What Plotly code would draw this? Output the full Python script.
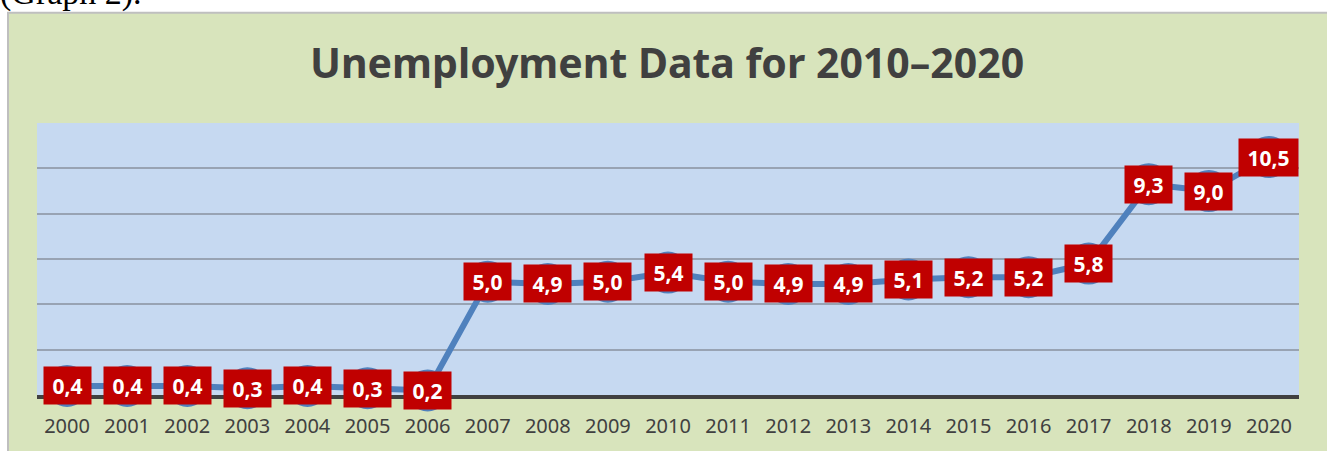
import plotly.graph_objects as go

years = [str(y) for y in range(2000, 2021)]
values = [0.4, 0.4, 0.4, 0.3, 0.4, 0.3, 0.2, 5.0, 4.9, 5.0, 5.4, 5.0, 4.9, 4.9, 5.1, 5.2, 5.2, 5.8, 9.3, 9.0, 10.5]
title_text = "Unemployment Data for 2010–2020"
caption_text = "(Graph 2)."

W, H = 1327, 451
L, R, T, B = 37, 28, 123, 54
pw, ph = W - L - R, H - T - B

def px_x(p):
    return (p - L) / pw

def px_y(p):
    return (H - B - p) / ph

fig = go.Figure()
fig.add_trace(go.Scatter(
    x=years, y=values, mode="lines+markers",
    line=dict(color="#4f81bd", width=6),
    marker=dict(size=42, color="#4f81bd"),
    cliponaxis=False, hoverinfo="skip", showlegend=False,
))

annotations = []
for i, v in enumerate(values):
    label = f"{v:.1f}".replace(".", ",")
    annotations.append(dict(
        x=i, y=v, xref="x", yref="y", showarrow=False,
        text="<b>" + label + "</b>",
        font=dict(family="Noto Sans", size=21, color="white"),
        bgcolor="#c00000", width=47 if len(label) <= 3 else 59, height=37, borderpad=0,
        xanchor="center", yanchor="middle", align="center", valign="middle",
    ))

annotations.append(dict(
    x=px_x(-2), y=px_y(-8), xref="paper", yref="paper", showarrow=False,
    text=caption_text, xanchor="left", yanchor="middle",
    font=dict(family="Liberation Serif", size=34, color="black"),
))

fig.update_layout(
    width=W, height=H,
    margin=dict(l=L, r=R, t=T, b=B),
    paper_bgcolor="white",
    plot_bgcolor="#c6d9f1",
    title=dict(text="<b>" + title_text + "</b>", x=667 / W, xanchor="center",
               y=1 - 64 / H, yanchor="middle",
               font=dict(family="Noto Sans", size=41, color="#404040")),
    annotations=annotations,
    shapes=[
        dict(type="rect", xref="paper", yref="paper", layer="below",
             x0=px_x(8), x1=px_x(1340), y0=px_y(460), y1=px_y(12),
             fillcolor="#d8e4bc", line=dict(color="#bfbfbf", width=2)),
        dict(type="rect", xref="x domain", yref="y domain", layer="below",
             x0=0, x1=1, y0=0, y1=1,
             fillcolor="#c6d9f1", line=dict(width=0)),
    ],
    xaxis=dict(type="category", range=[-0.5, 20.5], showgrid=False,
               showline=True, linecolor="#404040", linewidth=3.5,
               ticks="", ticklabelstandoff=10,
               tickfont=dict(family="Noto Sans", size=20, color="#404040")),
    yaxis=dict(range=[0, 12], dtick=2, showgrid=True, gridcolor="#98a3b3",
               gridwidth=1.5, showticklabels=False, zeroline=False, ticks=""),
)

fig.write_html("out.html")
